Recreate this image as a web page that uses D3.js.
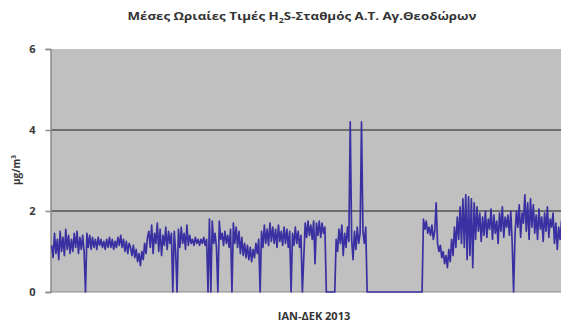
<!DOCTYPE html>
<html>
<head>
<meta charset="utf-8">
<script src="https://cdn.jsdelivr.net/npm/d3@7"></script>
<style>
  html, body { margin: 0; padding: 0; background: #ffffff; }
  svg { display: block; }
</style>
</head>
<body>
<svg id="chart" width="561" height="326"></svg>
<script>
// Daily readings of hourly mean H2S concentration (μg/m³), station Αγ. Θεοδώρων, 2013
const dailyH2S = [
  // Jan
  1.15,0.85,1.45,0.95,1.3,0.8,1.5,1.0,1.35,0.9,1.55,1.05,1.4,0.95,1.3,1.0,1.45,1.1,1.5,0.95,1.35,1.05,1.4,1.0,
  0,
  1.45,1.1,1.4,1.05,1.35,1.1,1.3,1.05,1.35,1.15,1.3,1.1,1.25,1.05,1.3,1.1,1.35,1.1,1.3,1.05,1.25,1.1,1.35,1.15,1.4,1.1,1.3,1.0,1.25,0.95,1.2,
  1.1,0.9,1.15,0.85,1.05,0.75,0.95,0.65,1.0,0.8,1.2,0.95,1.35,
  1.5,1.1,1.65,0.95,1.45,1.2,1.7,1.0,1.55,0.9,1.4,1.15,1.6,1.05,1.5,1.2,1.45,
  0,1.5,1.0,0,
  1.55,1.1,1.6,1.2,1.45,1.05,1.65,1.15,1.4,1.2,1.3,1.15,1.35,1.2,1.3,1.15,1.3,1.2,1.35,1.15,1.3,
  0,1.8,0,1.75,1.2,1.45,1.1,0,1.75,
  1.3,1.45,1.15,1.5,1.2,1.4,1.1,1.55,
  0,
  1.7,1.2,1.6,1.1,1.5,0.95,1.35,0.9,1.2,0.85,1.15,0.8,1.1,0.75,1.05,0.85,1.2,0.95,1.3,
  0,
  1.5,1.1,1.65,1.2,1.55,1.15,1.7,1.25,1.6,1.2,1.55,1.1,1.65,1.25,1.5,1.15,1.6,1.2,1.55,1.1,1.5,
  0,
  1.45,1.15,1.6,1.2,1.5,1.1,1.4,
  0,
  0.85,1.7,1.35,1.75,1.4,1.65,1.3,1.75,0.7,1.7,1.4,1.75,1.35,1.7,1.45,1.6,
  0,0,0,0,0,0,0,
  1.3,1.0,1.55,1.2,1.65,0.9,1.45,1.1,1.6,1.25,4.2,1.3,0.8,1.5,1.05,1.6,1.2,1.45,4.2,1.5,1.2,1.6,
  // station offline
  0,0,0,0,0,0,0,0,0,0,0,0,0,0,0,0,0,0,0,0,
  0,0,0,0,0,0,0,0,0,0,0,0,0,0,0,0,0,0,0,0,
  1.8,1.55,1.75,1.45,1.6,1.4,1.65,1.3,1.5,
  2.2,
  1.2,1.0,1.15,0.85,1.0,0.7,0.9,0.6,1.05,0.75,
  1.3,0.9,1.6,1.1,1.85,1.3,2.1,1.2,2.3,
  1.1,2.4,0.8,2.35,0.9,2.3,0.6,2.2,
  1.3,2.1,1.5,1.95,1.25,1.85,1.4,2.0,1.35,1.8,1.55,2.05,1.3,1.9,1.45,1.75,1.2,1.95,1.5,2.1,1.35,1.85,1.6,1.9,1.4,2.0,1.2,
  0,
  1.4,2.0,1.6,2.15,1.35,1.95,1.7,2.4,1.5,2.2,1.3,2.3,1.6,2.15,1.45,1.9,1.3,2.05,1.55,1.85,1.25,1.95,1.5,2.1,1.35,1.8,1.6,1.95,1.2,1.7,1.05,1.6,1.3,1.75,1.15,1.5
];

const yTicks = [0, 2, 4, 6];
const gridValues = [2, 4];
const titleMain = "Μέσες Ωριαίες Τιμές H";
const titleSub = "2";
const titleRest = "S-Σταθμός Α.Τ. Αγ.Θεοδώρων";
const xLabel = "ΙΑΝ-ΔΕΚ 2013";
const yLabel = "μg/m³";

const svg = d3.select("#chart");
const plot = { left: 51, top: 49, right: 565, bottom: 292 };

const x = d3.scaleLinear().domain([0, 365]).range([plot.left, plot.right]);
const y = d3.scaleLinear().domain([0, 6]).range([plot.bottom, plot.top]);

// plot background
svg.append("rect")
  .attr("x", plot.left).attr("y", plot.top)
  .attr("width", plot.right - plot.left).attr("height", plot.bottom - plot.top)
  .attr("fill", "#c0c0c0");

// horizontal gridlines
svg.append("g").selectAll("line").data(gridValues).join("line")
  .attr("x1", plot.left).attr("x2", plot.right)
  .attr("y1", d => y(d)).attr("y2", d => y(d))
  .attr("stroke", "#6e6e6e").attr("stroke-width", 2);

// y axis
const yAxis = d3.axisLeft(y).tickValues(yTicks).tickSize(5).tickPadding(10).tickFormat(d3.format("d"));
const gy = svg.append("g").attr("transform", `translate(${plot.left - 0.5},0)`).call(yAxis);
gy.select(".domain").attr("stroke", "#8a8a8a").attr("stroke-width", 1.5);
gy.selectAll(".tick line").attr("stroke", "#8a8a8a").attr("stroke-width", 1.5);
gy.selectAll(".tick text")
  .attr("fill", "#3a3a3a")
  .attr("font-family", "'Open Sans', 'DejaVu Sans', sans-serif")
  .attr("font-weight", "bold").attr("font-size", 11);

// baseline
svg.append("line")
  .attr("x1", plot.left).attr("x2", plot.right)
  .attr("y1", plot.bottom).attr("y2", plot.bottom)
  .attr("stroke", "#8a8a8a").attr("stroke-width", 1);

// data line
const line = d3.line()
  .x((d, i) => x(i + 0.5))
  .y(d => y(d));

svg.append("path")
  .datum(dailyH2S)
  .attr("d", line)
  .attr("fill", "none")
  .attr("stroke", "#3a30a2")
  .attr("stroke-width", 1.7)
  .attr("stroke-linejoin", "round");

// title
const title = svg.append("text")
  .attr("x", 302).attr("y", 20)
  .attr("text-anchor", "middle")
  .attr("font-family", "'Open Sans', 'DejaVu Sans', sans-serif")
  .attr("font-weight", "bold").attr("font-size", 10.5)
  .attr("fill", "#333333")
  .attr("textLength", 349).attr("lengthAdjust", "spacingAndGlyphs");
title.append("tspan").text(titleMain);
title.append("tspan").attr("font-size", 7).attr("dy", 3).text(titleSub);
title.append("tspan").attr("dy", -3).text(titleRest);

// x label
svg.append("text")
  .attr("x", 314).attr("y", 320)
  .attr("text-anchor", "middle")
  .attr("font-family", "'Open Sans', 'DejaVu Sans', sans-serif")
  .attr("font-weight", "bold").attr("font-size", 11)
  .attr("fill", "#333333")
  .text(xLabel);

// y label
svg.append("text")
  .attr("transform", "translate(20,170) rotate(-90)")
  .attr("text-anchor", "middle")
  .attr("font-family", "'Open Sans', 'DejaVu Sans', sans-serif")
  .attr("font-weight", "bold").attr("font-size", 10)
  .attr("fill", "#333333")
  .text(yLabel);
</script>
</body>
</html>
